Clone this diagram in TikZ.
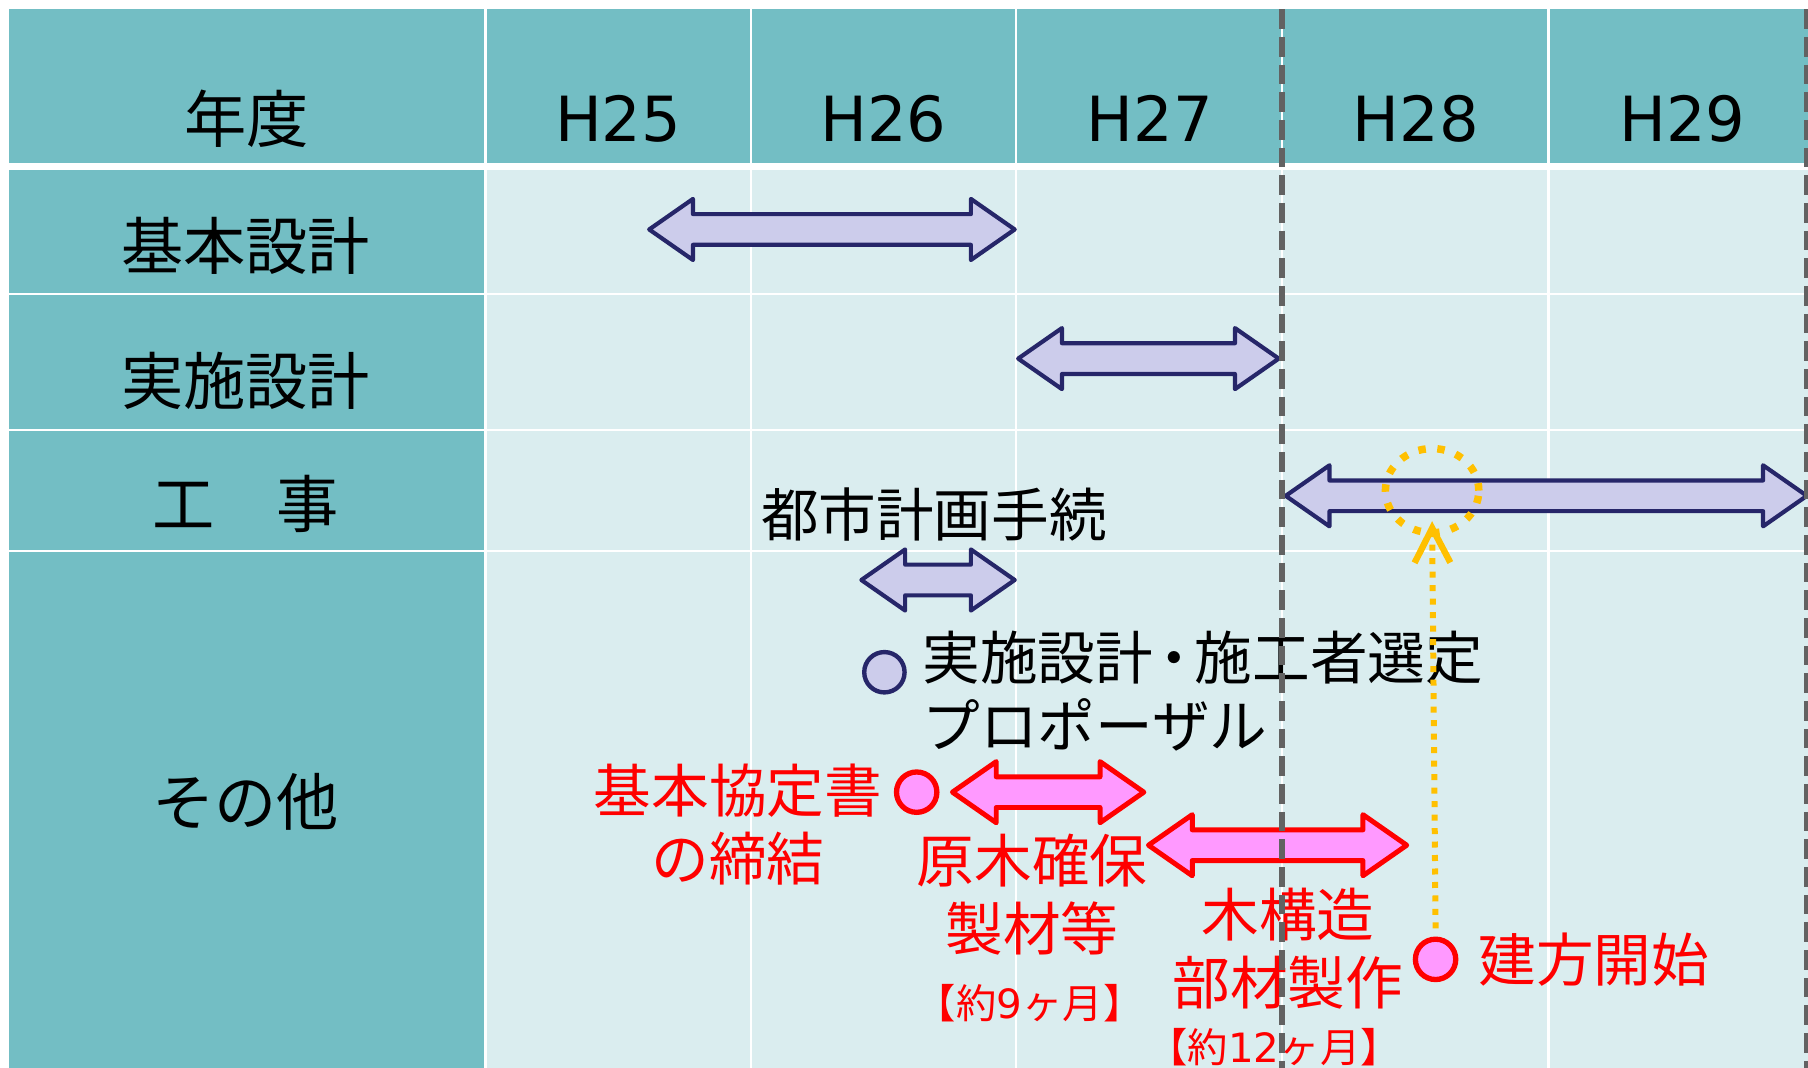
\documentclass[tikz,border=0pt]{standalone}
\usepackage{fontspec}
\setmainfont{DejaVu Sans}
\newfontfamily\cjk{Noto Sans CJK JP}
\usetikzlibrary{arrows.meta,shapes.geometric}
\definecolor{teal1}{RGB}{115,190,196}
\definecolor{cellbg}{RGB}{218,237,239}
\definecolor{navy}{RGB}{38,38,105}
\definecolor{lav}{RGB}{204,204,235}
\definecolor{pinkf}{RGB}{255,153,255}
\definecolor{redl}{RGB}{255,0,0}
\definecolor{gold}{RGB}{255,192,0}
\definecolor{dgray}{RGB}{98,98,98}
\newcommand\blockarr[4]{%
  \draw[#1] (#2,#4) -- (#2+38,#4-26.5) -- (#2+38,#4-13.3) -- (#3-38,#4-13.3) -- (#3-38,#4-26.5)
    -- (#3,#4) -- (#3-38,#4+26.5) -- (#3-38,#4+13.3) -- (#2+38,#4+13.3) -- (#2+38,#4+26.5) -- cycle;}
\begin{document}
\begin{tikzpicture}[x=1pt,y=-1pt,
  hd/.style={font=\fontsize{54}{60}\selectfont, text=black, inner sep=0},
  rowl/.style={font=\cjk\fontsize{54}{60}\selectfont, text=black, inner sep=0},
  lbl/.style={font=\cjk\fontsize{50}{59}\selectfont, text=black, inner sep=0, align=center},
  redlbl/.style={lbl, text=redl},
  smalllbl/.style={font=\fontsize{35}{40}\selectfont, text=redl, inner sep=0},
  navyarrow/.style={draw=navy, fill=lav, line width=3.6pt, line join=round},
  redarrow/.style={draw=redl, fill=pinkf, line width=4.3pt, line join=round},
  navydot/.style={circle, draw=navy, fill=lav, line width=3.8pt, minimum size=35pt, inner sep=0},
  reddot/.style={circle, draw=redl, fill=pinkf, line width=4.6pt, minimum size=35pt, inner sep=0},
  goldline/.style={draw=gold, line width=5.2pt, dash pattern=on 5.2pt off 6.5pt},
  divider/.style={draw=dgray, line width=5.2pt, dash pattern=on 17pt off 7pt},
]
\useasboundingbox (0,0) rectangle (1568,926);
\fill[white] (0,0) rectangle (1568,926);
% cells
\fill[teal1] (8,8) rectangle (420,141);
\foreach \ya/\yb in {147/254,256/372,374/477,479/926}
  \fill[teal1] (8,\ya) rectangle (420,\yb);
\foreach \xa/\xb in {422/650,652/880,882/1111,1113/1342,1344/1568}{
  \fill[teal1] (\xa,8) rectangle (\xb,141);
  \foreach \ya/\yb in {147/254,256/372,374/477,479/926}
    \fill[cellbg] (\xa,\ya) rectangle (\xb,\yb);
}
% header texts
\node[hd] (yr) at (214,103) {\cjk 年度};
\node[hd] (h25) at (536,103) {H25};
\node[hd] (h26) at (766,103) {H26};
\node[hd] (h27) at (997,103) {H27};
\node[hd] (h28) at (1228,103) {H28};
\node[hd] (h29) at (1459,103) {H29};
% row labels
\node[rowl] (r1) at (213,213) {基本設計};
\node[rowl] (r2) at (213,330) {実施設計};
\node[rowl] (r3) at (213,437) {工　事};
\node[rowl] (r4) at (213,695) {その他};
% block arrows
\blockarr{navyarrow}{563}{880}{199}
\blockarr{navyarrow}{883}{1109}{311}
\blockarr{navyarrow}{1115}{1567}{430}
\blockarr{navyarrow}{747}{880}{503}
\blockarr{redarrow}{826}{992}{687}
\blockarr{redarrow}{996}{1220}{733}
% circles
\node[navydot] (d1) at (767,583) {};
\node[reddot] (d2) at (795,687) {};
\node[reddot] (d3) at (1245,832) {};
% texts
\node[lbl] (t1) at (810,446) {都市計画手続};
\node[lbl, anchor=west, align=left] (t2) at (800,599) {実施設計\kern-7pt・\kern-7pt施工者選定\\プロポーザル};
\node[redlbl] (t3) at (640,715.5) {基本協定書\\の締結};
\node[redlbl] (t4) at (895,776) {原木確保\\製材等};
\node[smalllbl] (t5) at (893,870) {{\cjk 【約}9{\cjk ヶ月】}};
\node[redlbl] (t6) at (1117,823) {木構造\\部材製作};
\node[smalllbl] (t7) at (1105,908) {{\cjk 【約}12{\cjk ヶ月】}};
\node[redlbl, anchor=west] (t8) at (1282,832) {建方開始};
% orange highlight
\node[ellipse, draw=gold, line width=6.5pt, dash pattern=on 6.5pt off 10pt, minimum width=81pt, minimum height=73pt, inner sep=0, outer sep=0] (tgt) at (1242,425.5) {};
\draw[goldline, -{Straight Barb[length=30pt,width=31pt,line width=5.5pt]}] ([yshift=7pt]d3.north) -- ([yshift=10pt]tgt.south);
% dividers
\coordinate (dv1t) at (1112,8);
\coordinate (dv1b) at (1112,926);
\coordinate (dv2t) at (1567,8);
\coordinate (dv2b) at (1567,926);
\draw[divider] (dv1t) -- (dv1b);
\draw[divider] (dv2t) -- (dv2b);
\end{tikzpicture}
\end{document}
